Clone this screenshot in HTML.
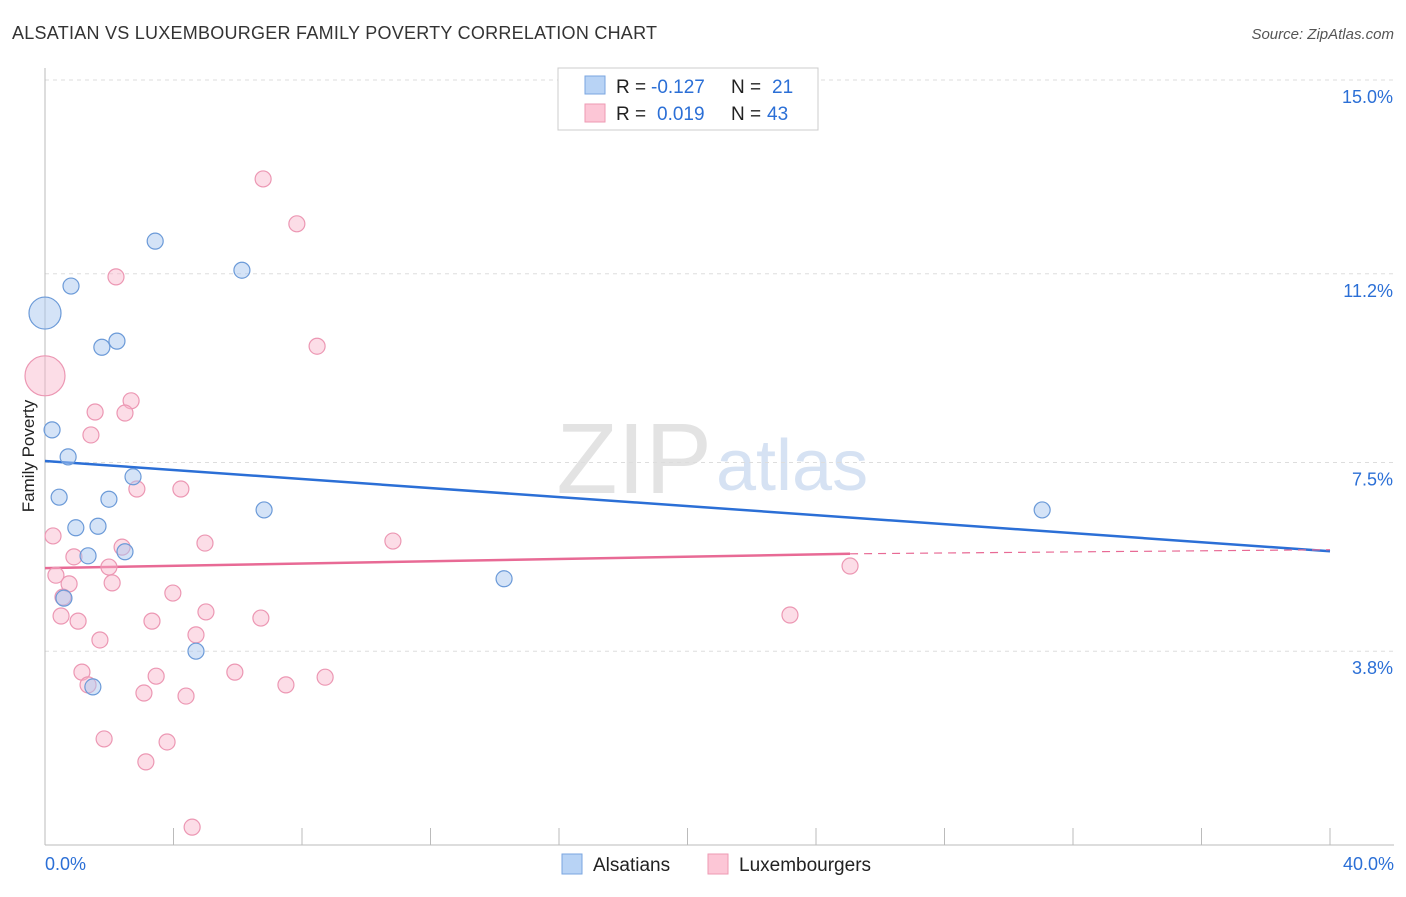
<!DOCTYPE html>
<html><head><meta charset="utf-8"><style>
body{margin:0;background:#fff;font-family:"Liberation Sans",sans-serif;}
svg text{font-family:"Liberation Sans",sans-serif;}
</style></head><body>
<svg id="chart" width="1406" height="892">
<text x="12" y="39" font-size="18" fill="#333" textLength="645">ALSATIAN VS LUXEMBOURGER FAMILY POVERTY CORRELATION CHART</text>
<text x="1394" y="39" font-size="15" fill="#555" text-anchor="end" font-style="italic">Source: ZipAtlas.com</text>
<text x="712" y="493" font-size="100" fill="#e3e3e3" text-anchor="end" font-family="Liberation Serif">ZIP</text>
<text x="716" y="490" font-size="72" fill="#d6e2f3">atlas</text>
<g id="grid"></g><g id="axes"></g><g id="lines"></g><g id="pts"></g>
<text x="34" y="456" font-size="17" fill="#222" text-anchor="middle" transform="rotate(-90 34 456)">Family Poverty</text>
<g>
<rect x="558" y="68" width="260" height="62" fill="#fff" stroke="#ccc"/>
<rect x="585" y="76" width="20" height="18" fill="#b8d3f5" stroke="#7aa6e0"/>
<rect x="585" y="104" width="20" height="18" fill="#fcc6d6" stroke="#ee9ab3"/>
<text x="616" y="93" font-size="19" fill="#222">R =</text>
<text x="651" y="93" font-size="19" fill="#2b6fd6">-0.127</text>
<text x="731" y="93" font-size="19" fill="#222">N =</text>
<text x="772" y="93" font-size="19" fill="#2b6fd6">21</text>
<text x="616" y="120" font-size="19" fill="#222">R =</text>
<text x="657" y="120" font-size="19" fill="#2b6fd6">0.019</text>
<text x="731" y="120" font-size="19" fill="#222">N =</text>
<text x="767" y="120" font-size="19" fill="#2b6fd6">43</text>
</g>
<g>
<rect x="562" y="854" width="20" height="20" fill="#b8d3f5" stroke="#7aa6e0"/>
<text x="593" y="871" font-size="19" fill="#222">Alsatians</text>
<rect x="708" y="854" width="20" height="20" fill="#fcc6d6" stroke="#ee9ab3"/>
<text x="739" y="871" font-size="19" fill="#222">Luxembourgers</text>
</g>
</svg>
<script>
const yTicks=[3.8,7.5,11.2,15.0];
const xTickLabels=["0.0%","40.0%"];
const blueX=[0,0.81,3.43,6.13,1.77,2.24,0.22,0.72,0.44,2.74,1.99,0.96,1.65,1.34,2.49,6.82,0.59,4.70,1.49,14.29,31.04];
const blueY=[10.43,10.96,11.84,11.27,9.76,9.88,8.14,7.61,6.82,7.22,6.78,6.22,6.25,5.67,5.75,6.57,4.84,3.80,3.10,5.22,6.57];
const blueR=[16,8,8,8,8,8,8,8,8,8,8,8,8,8,8,8,8,8,8,8,8];
const pinkX=[6.79,7.84,2.21,8.47,0,2.68,1.56,2.49,1.43,2.86,4.23,0.25,10.83,4.98,2.40,0.90,1.99,0.34,0.75,2.09,25.06,3.98,0.56,5.01,0.50,1.03,3.33,6.72,23.19,1.71,4.70,1.15,5.91,3.46,8.72,1.34,7.50,3.08,4.39,1.84,3.80,3.14,4.58];
const pinkY=[13.06,12.18,11.14,9.78,9.20,8.71,8.49,8.47,8.04,6.98,6.98,6.06,5.96,5.92,5.84,5.65,5.45,5.29,5.12,5.14,5.47,4.94,4.86,4.57,4.49,4.39,4.39,4.45,4.51,4.02,4.12,3.39,3.39,3.31,3.29,3.14,3.14,2.98,2.92,2.08,2.02,1.63,0.35];
const pinkR=[8,8,8,8,20,8,8,8,8,8,8,8,8,8,8,8,8,8,8,8,8,8,8,8,8,8,8,8,8,8,8,8,8,8,8,8,8,8,8,8,8,8,8];
const blueTrend=[7.53,5.76];
const pinkTrend=[5.43,5.71,5.79];
const pinkSolidEnd=25.06;
const NS="http://www.w3.org/2000/svg";
const sx=v=>45+v/40*1285, sy=v=>845-v/15*765;
function mk(t,a,p){const e=document.createElementNS(NS,t);for(const k in a)e.setAttribute(k,a[k]);p.appendChild(e);return e;}
const grid=document.getElementById('grid'),axes=document.getElementById('axes'),lines=document.getElementById('lines'),pts=document.getElementById('pts');
yTicks.forEach(t=>{
 const l=mk('line',{x1:45,x2:1394,y1:sy(t),y2:sy(t),stroke:'#ddd','stroke-dasharray':'4,4'},grid);
 
 
 const tx=mk('text',{x:1393,y:sy(t)+23,'font-size':18,fill:'#2b6fd6','text-anchor':'end'},grid);
 tx.textContent=t.toFixed(1)+'%';
 
 
});
const ya=mk('line',{x1:45,x2:45,y1:68,y2:845,stroke:'#bbb'},axes);


const xa=mk('line',{x1:45,x2:1394,y1:845,y2:845,stroke:'#bbb'},axes);


for(let i=0;i<=10;i++){const l=mk('line',{x1:sx(i*4),x2:sx(i*4),y1:828,y2:845,stroke:'#bbb'},axes);
 
 }
[[0,'start',45],[40,'end',1394]].forEach((d,i)=>{const t=mk('text',{x:d[2],y:870,'font-size':18,fill:'#2b6fd6','text-anchor':d[1]},axes);t.textContent=xTickLabels[i];
 
 });
const bl=mk('line',{x1:sx(0),y1:sy(blueTrend[0]),x2:sx(40),y2:sy(blueTrend[1]),stroke:'#2b6fd6','stroke-width':2.5},lines);


const pl=mk('line',{x1:sx(0),y1:sy(pinkTrend[0]),x2:sx(pinkSolidEnd),y2:sy(pinkTrend[1]),stroke:'#e86a95','stroke-width':2.5},lines);


const pd=mk('line',{x1:sx(pinkSolidEnd),y1:sy(pinkTrend[1]),x2:sx(40),y2:sy(pinkTrend[2]),stroke:'#e86a95','stroke-width':1.2,'stroke-dasharray':'8,6'},lines);


pinkX.forEach((x,i)=>{const c=mk('circle',{cx:sx(x),cy:sy(pinkY[i]),r:pinkR[i],fill:'rgba(248,180,202,0.45)',stroke:'#ec97b3','stroke-width':1.2},pts);
 
 });
blueX.forEach((x,i)=>{const c=mk('circle',{cx:sx(x),cy:sy(blueY[i]),r:blueR[i],fill:'rgba(170,200,240,0.5)',stroke:'#6b9ad8','stroke-width':1.2},pts);
 
 });
</script>
</body></html>
